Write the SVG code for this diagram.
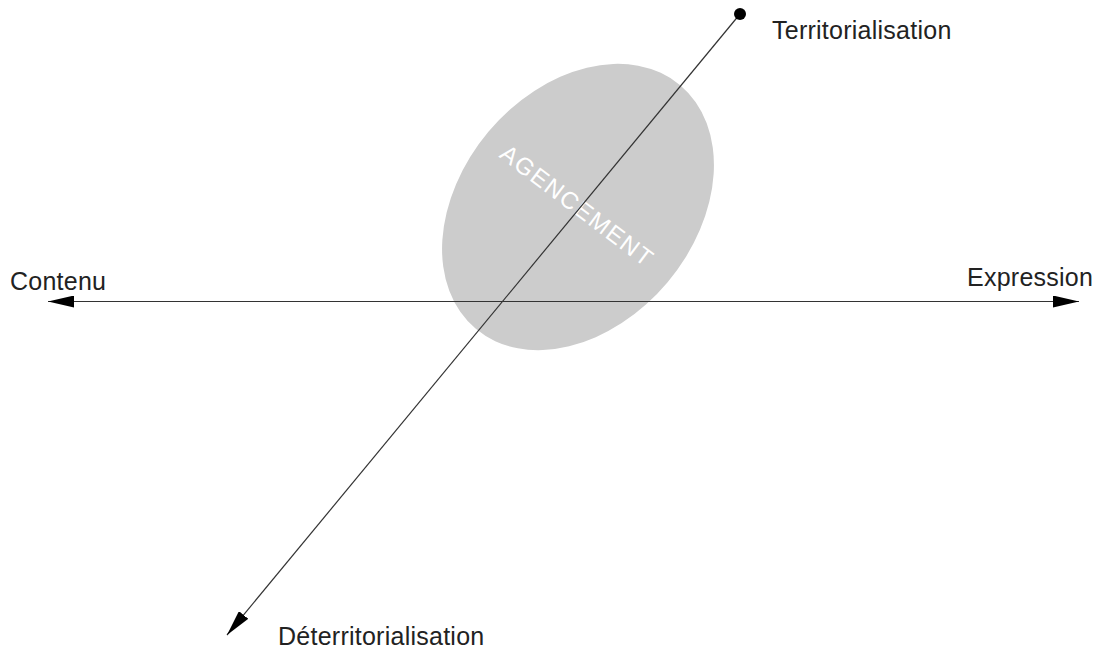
<svg xmlns="http://www.w3.org/2000/svg" width="1095" height="652" viewBox="0 0 1095 652">
<style>
.lbl{font-family:"Liberation Sans",Arial,sans-serif;font-size:25px;fill:#222;letter-spacing:0.25px}
.ax{stroke:#333;stroke-width:1.2;fill:none}
</style>
<defs>
<marker id="arr" viewBox="0 0 26 12" refX="26" refY="6" markerWidth="26" markerHeight="12" markerUnits="userSpaceOnUse" orient="auto-start-reverse">
<path d="M0,0 L26,6 L0,12 Z" fill="#000"/>
</marker>
</defs>
<rect width="1095" height="652" fill="#fff"/>
<g id="agencement">
<ellipse cx="578" cy="207" rx="159" ry="117" transform="rotate(-50 578 207)" fill="#cccccc"/>
<text transform="translate(577 206) rotate(37)" x="0" y="8" text-anchor="middle" font-family="Liberation Sans, Arial, sans-serif" font-size="24" letter-spacing="1.6" fill="#fff">AGENCEMENT</text>
</g>
<g id="connectors">
<line class="ax" x1="48" y1="301.5" x2="1079" y2="301.5" marker-start="url(#arr)" marker-end="url(#arr)"/>
<line class="ax" x1="740" y1="14" x2="227" y2="635" marker-end="url(#arr)"/>
<circle cx="740" cy="14" r="6" fill="#000"/>
</g>
<g id="territorialisation"><text class="lbl" x="772" y="39">Territorialisation</text></g>
<g id="deterritorialisation"><text class="lbl" x="278" y="645">Déterritorialisation</text></g>
<g id="contenu"><text class="lbl" x="10" y="290">Contenu</text></g>
<g id="expression"><text class="lbl" x="967" y="286">Expression</text></g>
</svg>
